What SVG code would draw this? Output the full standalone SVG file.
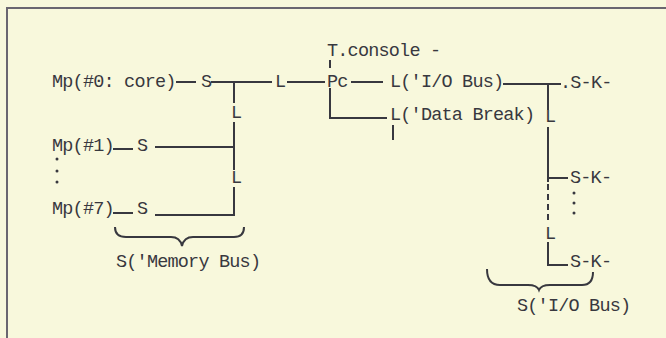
<svg xmlns="http://www.w3.org/2000/svg" width="666" height="338" viewBox="0 0 666 338">
<style>
text{font-family:"Liberation Mono","DejaVu Sans Mono",monospace;font-size:18.5px;letter-spacing:-0.8px;fill:#38383f}
.c line,.c path,.c polyline{stroke:#38383f;stroke-width:2;fill:none}
.dash{stroke-dasharray:6 4}
.dot{fill:#38383f}
</style>
<rect width="666" height="338" fill="#f8f8dc"/>
<path d="M7,338 V8 H666" fill="none" stroke="#6a6670" stroke-width="2"/>
<g id="tconsole"><text x="327" y="56">T.console -</text></g>
<g id="mp0"><text x="52" y="87">Mp(#0: core)</text></g>
<g id="s0"><text x="201" y="87">S</text></g>
<g id="l1"><text x="275" y="87">L</text></g>
<g id="pc"><text x="327" y="87">Pc</text></g>
<g id="lio"><text x="390" y="87">L('I/O Bus)</text></g>
<g id="sk1"><text x="560" y="88">.S-K-</text></g>
<g id="ldb"><text x="390" y="120">L('Data Break)</text></g>
<g id="lr1"><text x="545" y="122">L</text></g>
<g id="sk2"><text x="570" y="183">S-K-</text></g>
<g id="lr2"><text x="545" y="239">L</text></g>
<g id="sk3"><text x="570" y="267">S-K-</text></g>
<g id="mp1"><text x="52" y="151">Mp(#1)</text></g>
<g id="s1"><text x="137" y="151">S</text></g>
<g id="ll1"><text x="231" y="118">L</text></g>
<g id="ll2"><text x="231" y="183">L</text></g>
<g id="mp7"><text x="52" y="214">Mp(#7)</text></g>
<g id="s7"><text x="137" y="214">S</text></g>
<g id="smem"><text x="116" y="267">S('Memory Bus)</text></g>
<g id="sio"><text x="517" y="311">S('I/O Bus)</text></g>
<g id="connectors" class="c">
<line x1="176" y1="82" x2="196" y2="82"/>
<line x1="211" y1="82" x2="272" y2="82"/>
<line x1="234" y1="82" x2="234" y2="103"/>
<line x1="234" y1="122" x2="234" y2="170"/>
<line x1="155" y1="147" x2="234" y2="147"/>
<polyline points="234,187 234,215 155,215"/>
<line x1="113" y1="149" x2="133" y2="149"/>
<line x1="113" y1="213" x2="133" y2="213"/>
<line x1="287" y1="82" x2="325" y2="82"/>
<line x1="351" y1="82" x2="383" y2="82"/>
<line x1="330" y1="60" x2="330" y2="68"/>
<polyline points="330,88 330,118 387,118"/>
<line x1="393" y1="125" x2="393" y2="140"/>
<line x1="503" y1="84" x2="561" y2="84"/>
<line x1="548" y1="84" x2="548" y2="110"/>
<line x1="548" y1="127" x2="548" y2="182"/>
<line x1="548" y1="178" x2="568" y2="178"/>
<line class="dash" x1="548" y1="184" x2="548" y2="224"/>
<polyline points="548,242 548,265 568,265"/>
<path d="M115,227 Q115,237 126,237 L171,237 Q180,237 182,246 Q184,237 193,237 L234,237 Q244,237 244,227"/>
<path d="M487,269 Q487,285 500,285 L528,285 Q537,285 539,290 Q541,285 550,285 L582,285 Q593,285 593,272"/>
</g>
<circle class="dot" cx="57" cy="159" r="1.5"/>
<circle class="dot" cx="57" cy="171" r="1.5"/>
<circle class="dot" cx="57" cy="182" r="1.5"/>
<circle class="dot" cx="574" cy="193" r="1.5"/>
<circle class="dot" cx="574" cy="203" r="1.5"/>
<circle class="dot" cx="574" cy="213" r="1.5"/>
</svg>
